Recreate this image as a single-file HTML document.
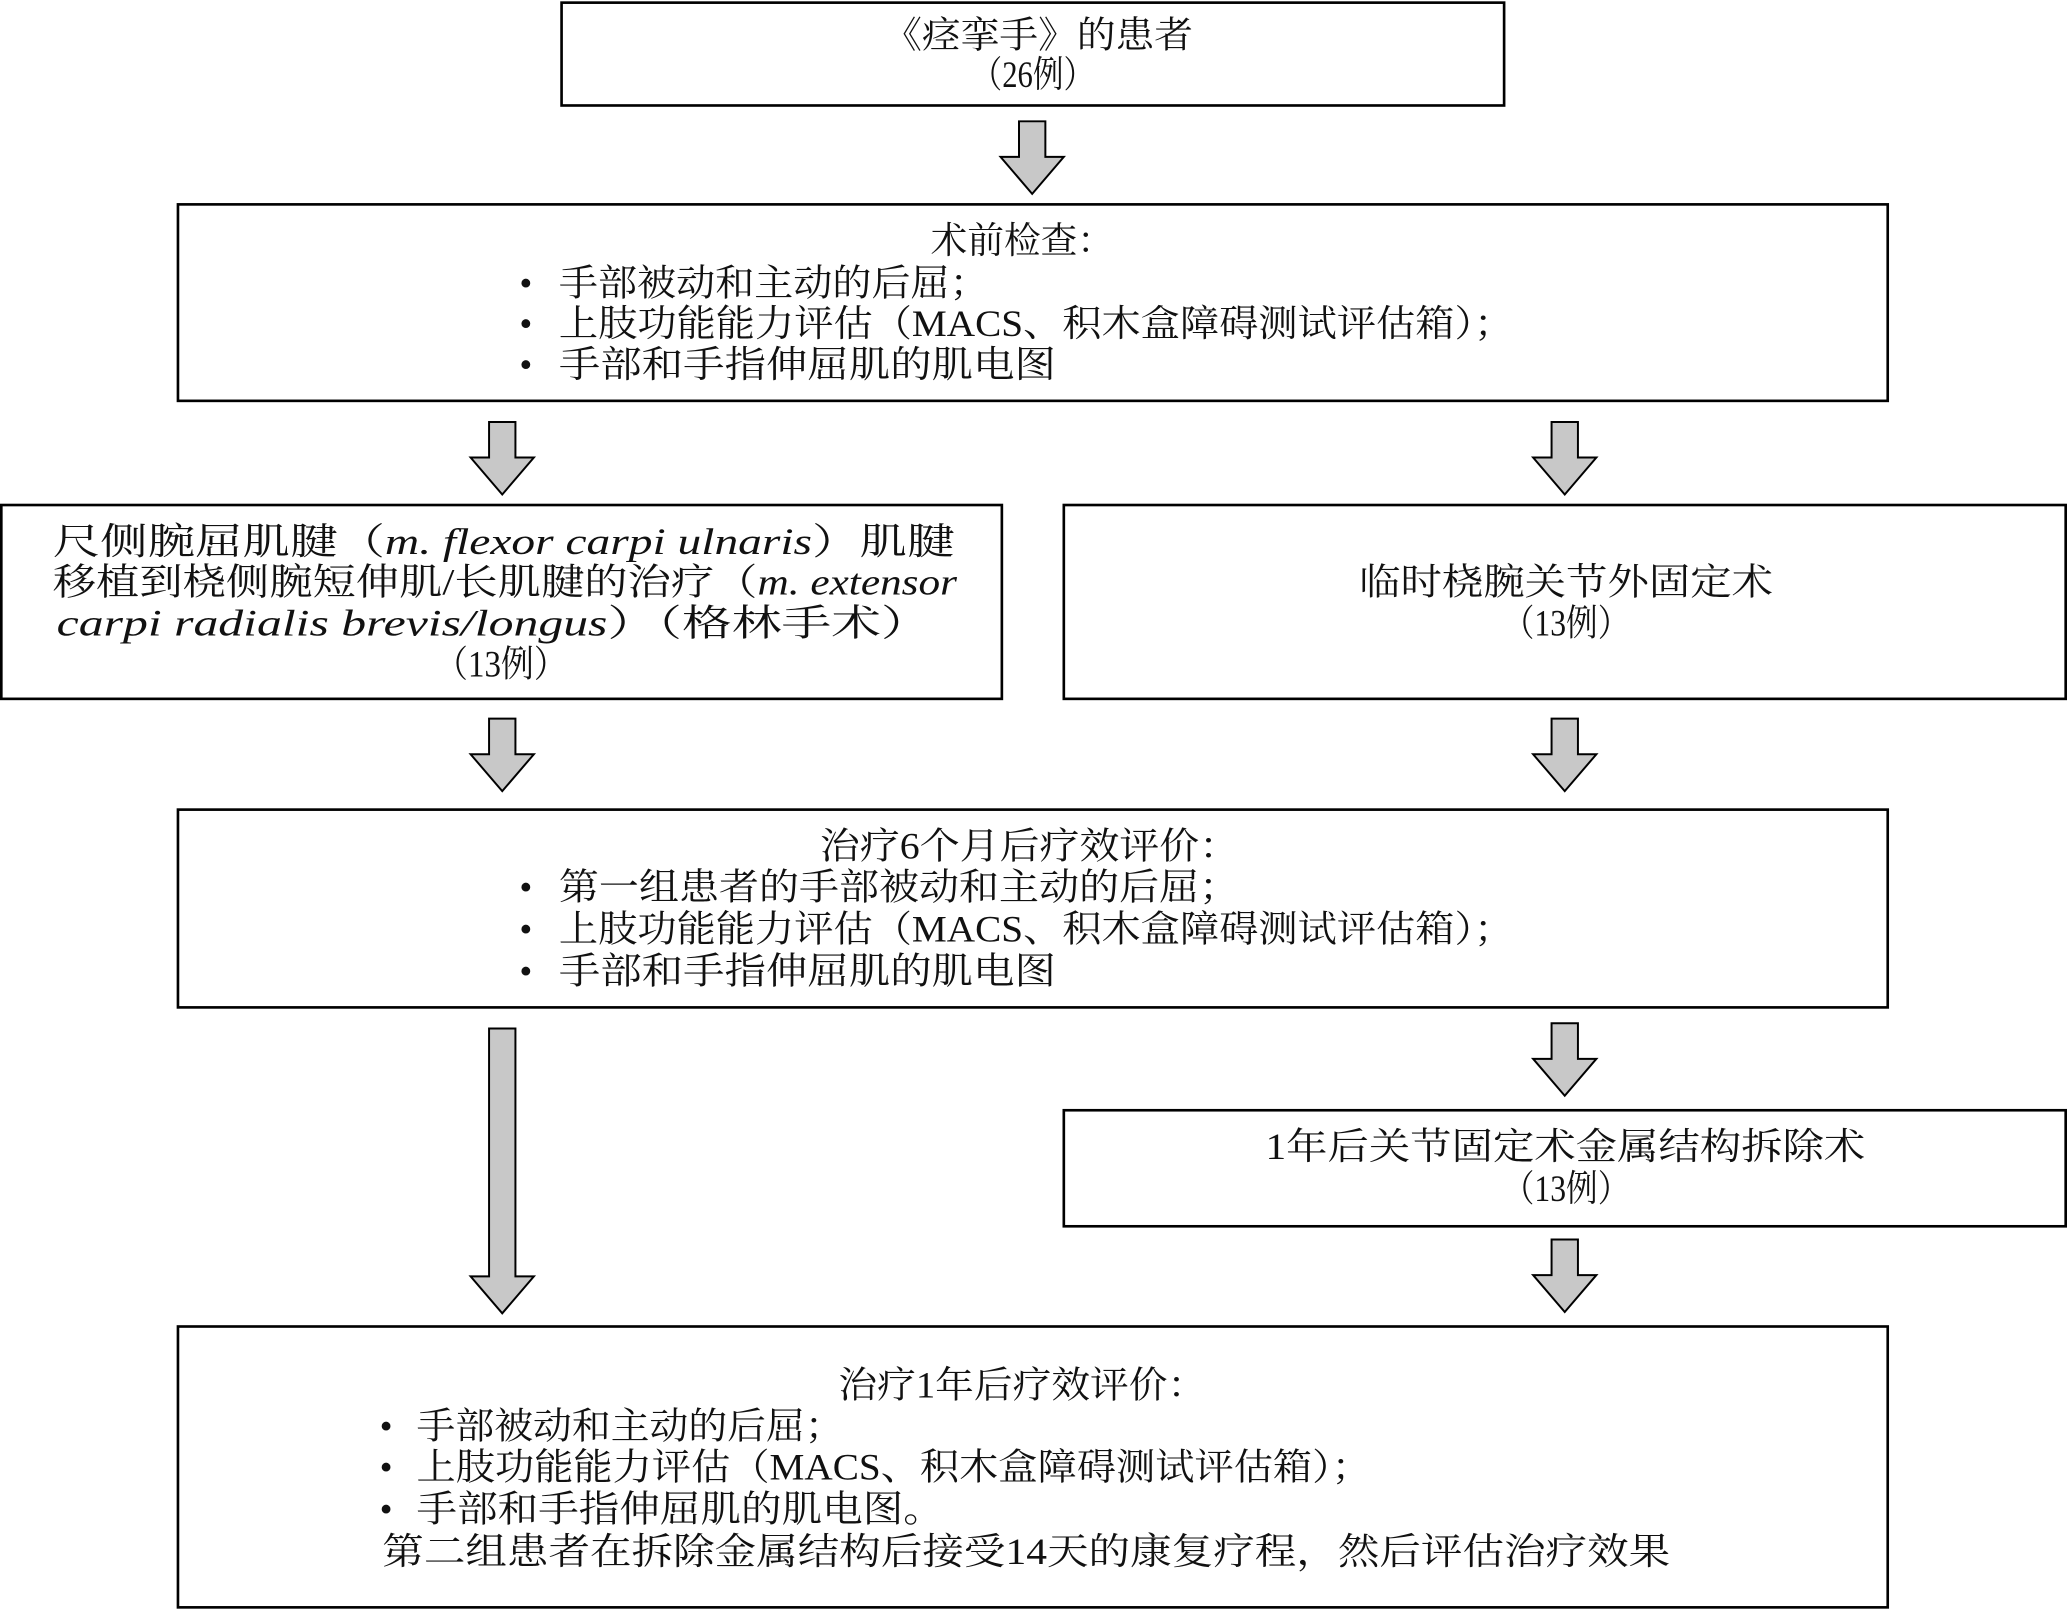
<!DOCTYPE html>
<html><head><meta charset="utf-8"><style>
html,body{margin:0;padding:0;background:#fff;}
svg{display:block;}
text{font-family:"Liberation Serif","Noto Serif CJK SC",serif;font-size:28px;fill:#111;}
</style></head><body>
<svg width="2067" height="1610" viewBox="0 0 1568 1221" preserveAspectRatio="none" xmlns="http://www.w3.org/2000/svg">
<defs>
<g id="ar"><polygon points="-10,0 10,0 10,27 24,27 0,55 -24,27 -10,27" fill="#c8c8c8" stroke="#000" stroke-width="1.5"/></g>
</defs>
<g fill="none" stroke="#000" stroke-width="2">
<rect x="426" y="2" width="715" height="78"/>
<rect x="135" y="155" width="1297" height="149"/>
<rect x="1" y="383" width="759" height="147"/>
<rect x="807" y="383" width="760" height="147"/>
<rect x="135" y="614" width="1297" height="150"/>
<rect x="807" y="842" width="760" height="88"/>
<rect x="135" y="1006" width="1297" height="213"/>
</g>
<use href="#ar" x="783" y="92"/>
<use href="#ar" x="381" y="320"/>
<use href="#ar" x="1187" y="320"/>
<use href="#ar" x="381" y="545"/>
<use href="#ar" x="1187" y="545"/>
<use href="#ar" x="1187" y="776"/>
<use href="#ar" x="1187" y="940"/>
<polygon points="371,780 391,780 391,968 405,968 381,996 357,968 371,968" fill="#c8c8c8" stroke="#000" stroke-width="1.5"/>

<text x="670" y="36" textLength="235" lengthAdjust="spacingAndGlyphs">《痉挛手》的患者</text>
<text x="737" y="66" textLength="93" lengthAdjust="spacingAndGlyphs">（26例）</text>

<text x="706" y="192" textLength="139" lengthAdjust="spacingAndGlyphs">术前检查：</text>
<text x="394" y="224">•</text>
<text x="424" y="224" textLength="326" lengthAdjust="spacingAndGlyphs">手部被动和主动的后屈；</text>
<text x="394" y="255">•</text>
<text x="424" y="255" textLength="724" lengthAdjust="spacingAndGlyphs">上肢功能能力评估（MACS、积木盒障碍测试评估箱）；</text>
<text x="394" y="286">•</text>
<text x="424" y="286" textLength="377" lengthAdjust="spacingAndGlyphs">手部和手指伸屈肌的肌电图</text>

<text x="40" y="420" textLength="684" lengthAdjust="spacingAndGlyphs">尺侧腕屈肌腱（<tspan font-style="italic">m. flexor carpi ulnaris</tspan>）肌腱</text>
<text x="40" y="451" textLength="686" lengthAdjust="spacingAndGlyphs">移植到桡侧腕短伸肌/长肌腱的治疗（<tspan font-style="italic">m. extensor</tspan></text>
<text x="43" y="482" textLength="663" lengthAdjust="spacingAndGlyphs"><tspan font-style="italic">carpi radialis brevis/longus</tspan>）（格林手术）</text>
<text x="330" y="513" textLength="100" lengthAdjust="spacingAndGlyphs">（13例）</text>

<text x="1031" y="451" textLength="314" lengthAdjust="spacingAndGlyphs">临时桡腕关节外固定术</text>
<text x="1140" y="482" textLength="96" lengthAdjust="spacingAndGlyphs">（13例）</text>

<text x="622" y="651" textLength="318" lengthAdjust="spacingAndGlyphs">治疗6个月后疗效评价：</text>
<text x="394" y="682">•</text>
<text x="424" y="682" textLength="516" lengthAdjust="spacingAndGlyphs">第一组患者的手部被动和主动的后屈；</text>
<text x="394" y="714">•</text>
<text x="424" y="714" textLength="724" lengthAdjust="spacingAndGlyphs">上肢功能能力评估（MACS、积木盒障碍测试评估箱）；</text>
<text x="394" y="746">•</text>
<text x="424" y="746" textLength="377" lengthAdjust="spacingAndGlyphs">手部和手指伸屈肌的肌电图</text>

<text x="960" y="879" textLength="455" lengthAdjust="spacingAndGlyphs">1年后关节固定术金属结构拆除术</text>
<text x="1140" y="911" textLength="96" lengthAdjust="spacingAndGlyphs">（13例）</text>

<text x="636" y="1060" textLength="279" lengthAdjust="spacingAndGlyphs">治疗1年后疗效评价：</text>
<text x="288" y="1091">•</text>
<text x="316" y="1091" textLength="324" lengthAdjust="spacingAndGlyphs">手部被动和主动的后屈；</text>
<text x="288" y="1122">•</text>
<text x="316" y="1122" textLength="724" lengthAdjust="spacingAndGlyphs">上肢功能能力评估（MACS、积木盒障碍测试评估箱）；</text>
<text x="288" y="1154">•</text>
<text x="316" y="1154" textLength="400" lengthAdjust="spacingAndGlyphs">手部和手指伸屈肌的肌电图。</text>
<text x="290" y="1186" textLength="977" lengthAdjust="spacingAndGlyphs">第二组患者在拆除金属结构后接受14天的康复疗程，然后评估治疗效果</text>
</svg>
</body></html>
